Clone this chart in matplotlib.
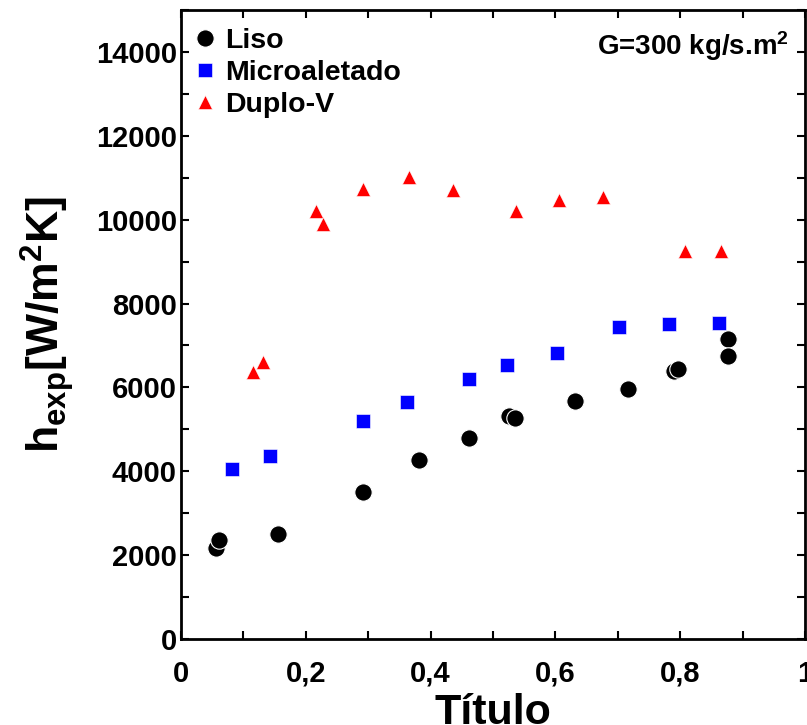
import numpy as np
import matplotlib
matplotlib.use("Agg")
import matplotlib.pyplot as plt
from matplotlib.ticker import MultipleLocator, FuncFormatter

plt.rcParams['font.family'] = ['Liberation Sans', 'DejaVu Sans']
plt.rcParams['font.weight'] = 'bold'
plt.rcParams['mathtext.fontset'] = 'custom'
plt.rcParams['mathtext.rm'] = 'Liberation Sans:bold'
plt.rcParams['mathtext.bf'] = 'Liberation Sans:bold'
plt.rcParams['mathtext.it'] = 'Liberation Sans:bold'
plt.rcParams['mathtext.default'] = 'rm'

# data
liso_x = [0.056, 0.061, 0.155, 0.292, 0.381, 0.461, 0.526, 0.536, 0.632,
          0.717, 0.790, 0.797, 0.877, 0.877]
liso_y = [2170, 2360, 2500, 3500, 4270, 4785, 5315, 5275, 5680,
          5970, 6400, 6450, 7145, 6740]

micro_x = [0.082, 0.142, 0.292, 0.362, 0.462, 0.522, 0.602, 0.702, 0.782, 0.862]
micro_y = [4055, 4365, 5205, 5650, 6190, 6525, 6810, 7430, 7510, 7535]

duplo_x = [0.116, 0.132, 0.216, 0.227, 0.291, 0.366, 0.436, 0.537,
           0.606, 0.677, 0.807, 0.866]
duplo_y = [6360, 6605, 10205, 9885, 10720, 11020, 10705, 10205,
           10475, 10545, 9250, 9255]

fig = plt.figure(figsize=(8.07, 7.25), dpi=100)
ax = fig.add_axes([0.2243, 0.1186, 0.7732, 0.8676])

ax.plot(liso_x, liso_y, 'o', ls='none', color='black', mec='white', mew=0.8,
        ms=12.5, label='Liso')
ax.plot(micro_x, micro_y, 's', ls='none', color='blue', mec='white', mew=0.4,
        ms=10, label='Microaletado')
ax.plot(duplo_x, duplo_y, '^', ls='none', color='red', mec='white', mew=0.4,
        ms=10.5, label='Duplo-V')

ax.set_xlim(0, 1)
ax.set_ylim(0, 15000)
ax.xaxis.set_major_locator(MultipleLocator(0.2))
ax.xaxis.set_minor_locator(MultipleLocator(0.1))
ax.yaxis.set_major_locator(MultipleLocator(2000))
ax.yaxis.set_minor_locator(MultipleLocator(1000))


def virgula(v, pos):
    s = '%g' % round(v, 2)
    return s.replace('.', ',')


ax.xaxis.set_major_formatter(FuncFormatter(virgula))
ax.tick_params(which='both', direction='in', top=True, right=True,
               length=6, width=1.5, labelsize=21)
ax.tick_params(axis='x', pad=15)
ax.tick_params(axis='y', pad=3)
for s in ax.spines.values():
    s.set_linewidth(2)

ax.set_xlabel('Título', fontsize=31, fontweight='bold', labelpad=4)
ax.set_ylabel(r'h$_{exp}$[W/m$^{2}$K]', fontsize=32, fontweight='bold', labelpad=14)

ax.text(0.975, 0.942, r'G=300 kg/s.m$^{2}$', transform=ax.transAxes,
        ha='right', va='center', fontsize=20, fontweight='bold')

leg = ax.legend(loc='upper left', bbox_to_anchor=(-0.002, 0.99), frameon=False,
                fontsize=20.5, numpoints=1, handlelength=1.0, handletextpad=0.2,
                labelspacing=0.22, borderaxespad=0.2, borderpad=0.2)

fig.savefig('out.png', dpi=100)
